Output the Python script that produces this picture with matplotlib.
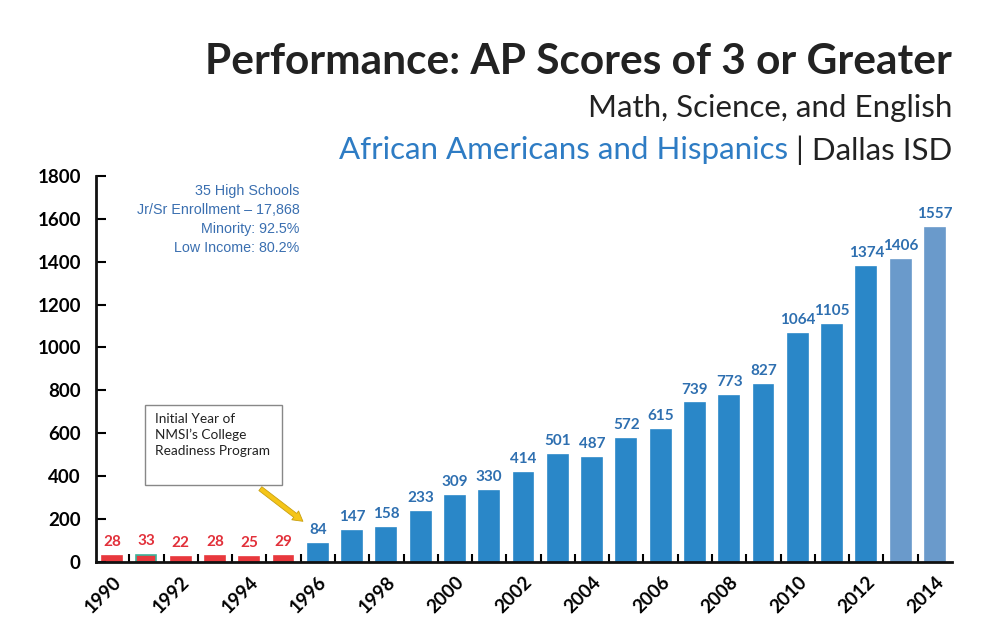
import matplotlib.pyplot as plt
from matplotlib.patches import Rectangle
import numpy as np

years = list(range(1990, 2015))
scores = [28, 33, 22, 28, 25, 29, 84, 147, 158, 233, 309, 330, 414, 501, 487,
          572, 615, 739, 773, 827, 1064, 1105, 1374, 1406, 1557]
yticks = [0, 200, 400, 600, 800, 1000, 1200, 1400, 1600, 1800]

RED = '#e8383d'
BLUE = '#2a87c8'
LIGHT = '#6a9acb'
RED_TXT = '#e2303a'
BLUE_TXT = '#2e6fb0'

plt.rcParams['font.family'] = ['Lato', 'DejaVu Sans']

fig = plt.figure(figsize=(10, 6.19), dpi=100)
ax = fig.add_axes([0.096, 0.092, 0.856, 0.624])

x = np.arange(len(years))
colors = [RED if y < 1996 else (LIGHT if y >= 2013 else BLUE) for y in years]
edges = ['#3db39a' if y == 1991 else c for y, c in zip(years, colors)]
ax.bar(x, scores, width=0.58, color=colors, edgecolor=edges, linewidth=1.2)

# valeurs au-dessus des barres
for xi, v, y in zip(x, scores, years):
    ax.annotate(str(v), (xi, v), xytext=(0, 5), textcoords='offset points',
                ha='center', va='bottom', fontsize=11, fontweight='bold',
                color=RED_TXT if y < 1996 else BLUE_TXT)

ax.set_xlim(-0.47, 24.5)
ax.set_ylim(0, 1800)
ax.set_yticks(yticks)
ax.set_yticklabels([str(t) for t in yticks], fontsize=13.5, fontweight='bold')
ax.tick_params(axis='y', direction='in', length=7, width=1.5, pad=11)

ax.set_xticks(x[::2])
ax.set_xticklabels([str(y) for y in years[::2]], rotation=45, ha='right',
                   rotation_mode='anchor', fontsize=13.5, fontweight='bold')
ax.tick_params(axis='x', which='major', length=0, pad=8)
ax.set_xticks(x[:-1] + 0.5, minor=True)
ax.tick_params(axis='x', which='minor', direction='in', length=6, width=1.5)

for s in ['top', 'right']:
    ax.spines[s].set_visible(False)
for s in ['left', 'bottom']:
    ax.spines[s].set_linewidth(2)
    ax.spines[s].set_color('#111111')

# bloc d'info
ax.text(0.238, 0.978, '35 High Schools\nJr/Sr Enrollment \u2013 17,868\nMinority: 92.5%\nLow Income: 80.2%',
        transform=ax.transAxes, ha='right', va='top', fontsize=10.3,
        family=['Liberation Sans', 'DejaVu Sans'], color='#3a6fb0', linespacing=1.45)

# encadré + flèche
fig.patches.append(Rectangle((0.145, 1 - 485 / 619), 0.137, 80 / 619,
                             transform=fig.transFigure, facecolor='white',
                             edgecolor='#888888', linewidth=1))
fig.text(0.155, 1 - 413 / 619, 'Initial Year of\nNMSI\u2019s College\nReadiness Program',
         ha='left', va='top', fontsize=9.8, color='#222222', linespacing=1.35)
ax.annotate('', xy=(5.63, 182), xytext=(4.26, 350),
            arrowprops=dict(arrowstyle='simple,head_width=0.8,head_length=0.7,tail_width=0.35',
                            facecolor='#f5c518', edgecolor='#c9a010', linewidth=0.6))

# titres
fig.text(0.952, 1 - 62 / 619, 'Performance: AP Scores of 3 or Greater', ha='right', va='center',
         fontsize=30.5, fontweight='bold', color='#222222')
fig.text(0.952, 1 - 108 / 619, 'Math, Science, and English', ha='right', va='center',
         fontsize=22.5, color='#222222')
t3 = fig.text(0.952, 1 - 150 / 619, '| Dallas ISD', ha='right', va='center',
              fontsize=22.5, color='#222222')
ax.annotate('African Americans and Hispanics ', xy=(0, 0.5), xycoords=t3,
            ha='right', va='center', fontsize=22.5, color='#2e7cc4', annotation_clip=False)

fig.savefig('out.png', dpi=100)
